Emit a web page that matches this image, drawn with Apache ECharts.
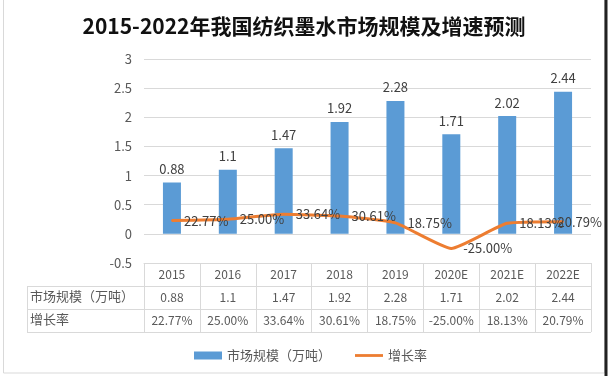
<!DOCTYPE html>
<html>
<head>
<meta charset="utf-8">
<script src="https://cdn.jsdelivr.net/npm/echarts@6/dist/echarts.min.js"></script>
<style>html,body{margin:0;padding:0;background:#fff;}#c{width:608px;height:376px;}</style>
</head>
<body>
<div id="c"></div>
<script>
var titleText = '2015-2022年我国纺织墨水市场规模及增速预测';
var categories = ['2015', '2016', '2017', '2018', '2019', '2020E', '2021E', '2022E'];
var marketSize = [0.88, 1.1, 1.47, 1.92, 2.28, 1.71, 2.02, 2.44];
var growthRate = [22.77, 25.00, 33.64, 30.61, 18.75, -25.00, 18.13, 20.79];
var sizeName = '市场规模（万吨）';
var rateName = '增长率';
var yMin = -0.5, yMax = 3, yInterval = 0.5;

var FONT = '"Noto Sans CJK SC", "Noto Sans", sans-serif';
var TXT = '#595959';
var GRID = '#d9d9d9';
var G = {left: 144, right: 17, top: 59, bottom: 113};
var W = 608, H = 376;
var tableTop = H - G.bottom;
var rowH = 23;
var labelColLeft = 27;
var plotRight = W - G.right;
var labelMaxRight = 602;

var chart = echarts.init(document.getElementById('c'), null, {renderer: 'canvas'});

function fmtPct(v) { return v.toFixed(2) + '%'; }

var graphics = [
  {type: 'rect', shape: {x: 3.5, y: -1, width: 601, height: 374}, style: {fill: 'none', stroke: '#d9d9d9', lineWidth: 1}, silent: true},
  {type: 'line', shape: {x1: 606, y1: 0, x2: 606, y2: H}, style: {stroke: '#222', lineWidth: 3}, silent: true}
];
for (var r = 1; r <= 3; r++) {
  var yy = tableTop + r * rowH + 0.5;
  graphics.push({type: 'line', shape: {x1: labelColLeft, y1: yy, x2: plotRight, y2: yy}, style: {stroke: GRID, lineWidth: 1}, silent: true});
}
graphics.push({type: 'line', shape: {x1: labelColLeft + 0.5, y1: tableTop + rowH, x2: labelColLeft + 0.5, y2: tableTop + 3 * rowH}, style: {stroke: GRID, lineWidth: 1}, silent: true});
var rowLabels = [sizeName, rateName];
for (var i = 0; i < rowLabels.length; i++) {
  graphics.push({type: 'text', left: labelColLeft + 3, top: tableTop + (i + 1) * rowH + 4,
    style: {text: rowLabels[i], fill: TXT, font: '13px ' + FONT}, silent: true});
}

var option = {
  animation: false,
  backgroundColor: '#fff',
  textStyle: {fontFamily: FONT},
  title: {
    text: titleText, left: 'center', top: 11,
    textStyle: {fontSize: 21, fontWeight: 'bold', color: '#111', fontFamily: FONT}
  },
  legend: {
    left: 189, top: 344,
    itemWidth: 28, itemHeight: 8, itemGap: 24,
    textStyle: {fontSize: 13, color: TXT, fontFamily: FONT},
    data: [
      {name: sizeName, icon: 'rect'},
      {name: rateName, icon: 'path://M0,0 L30,0 L30,3 L0,3 Z', itemStyle: {color: '#ED7D31'}}
    ]
  },
  grid: G,
  xAxis: [
    {
      type: 'category', data: categories, position: 'bottom',
      axisLine: {show: true, onZero: false, lineStyle: {color: GRID}},
      axisTick: {show: true, length: rowH * 3, lineStyle: {color: GRID}},
      axisLabel: {interval: 0, color: TXT, fontSize: 12, margin: 5, fontFamily: FONT}
    },
    {
      type: 'category', data: marketSize.map(function (v) { return String(v); }), position: 'bottom', offset: rowH,
      axisLine: {show: false}, axisTick: {show: false},
      axisLabel: {interval: 0, color: TXT, fontSize: 12, margin: 5, fontFamily: FONT}
    },
    {
      type: 'category', data: growthRate.map(fmtPct), position: 'bottom', offset: rowH * 2,
      axisLine: {show: false}, axisTick: {show: false},
      axisLabel: {interval: 0, color: TXT, fontSize: 12, margin: 5, fontFamily: FONT}
    }
  ],
  yAxis: {
    type: 'value', min: yMin, max: yMax, interval: yInterval,
    axisLine: {show: false}, axisTick: {show: false},
    axisLabel: {color: TXT, fontSize: 13, margin: 12, fontFamily: FONT},
    splitLine: {lineStyle: {color: GRID}}
  },
  series: [
    {
      name: sizeName, type: 'bar', xAxisIndex: 0, data: marketSize, barWidth: 18,
      itemStyle: {color: '#5B9BD5'},
      label: {show: true, position: 'top', distance: 7, color: '#404040', fontSize: 13, fontFamily: FONT}
    },
    {
      name: rateName, type: 'line', xAxisIndex: 0, data: growthRate.map(function (v) { return v / 100; }),
      smooth: 0.15, symbol: 'circle', symbolSize: 2, showSymbol: true,
      lineStyle: {color: '#ED7D31', width: 3},
      itemStyle: {color: '#ED7D31'},
      label: {show: true, position: 'right', distance: 11, color: '#404040', fontSize: 13, fontFamily: FONT,
        formatter: function (p) { return fmtPct(growthRate[p.dataIndex]); }},
      labelLayout: function (params) {
        var rc = params.labelRect;
        var over = rc.x + rc.width - labelMaxRight;
        if (over > 0) {
          return {dx: -over};
        }
        return {};
      }
    }
  ],
  graphic: graphics
};
chart.setOption(option);
</script>
</body>
</html>
